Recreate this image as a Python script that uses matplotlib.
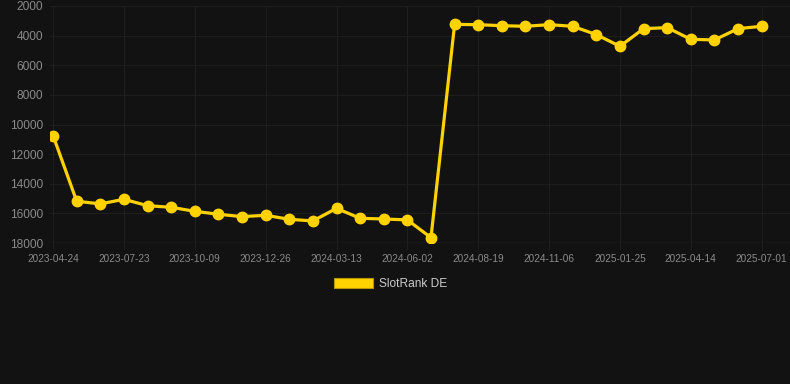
import matplotlib.pyplot as plt
from matplotlib.patches import Patch

# one point per category, every third date shown on the axis
dates = ["2023-04-24", "2023-05-24", "2023-06-23", "2023-07-23", "2023-08-18",
         "2023-09-13", "2023-10-09", "2023-11-04", "2023-11-30", "2023-12-26",
         "2024-01-21", "2024-02-16", "2024-03-13", "2024-04-09", "2024-05-06",
         "2024-06-02", "2024-06-28", "2024-07-24", "2024-08-19", "2024-09-14",
         "2024-10-11", "2024-11-06", "2024-12-02", "2024-12-29", "2025-01-25",
         "2025-02-20", "2025-03-19", "2025-04-14", "2025-05-10", "2025-06-05",
         "2025-07-01"]
rank_de = [10750, 15180, 15360, 15050, 15480, 15590, 15860, 16060, 16220, 16130,
           16400, 16510, 15660, 16330, 16380, 16440, 17640, 3240, 3260, 3330,
           3370, 3260, 3370, 3930, 4720, 3530, 3460, 4250, 4290, 3530, 3370]
y_ticks = [2000, 4000, 6000, 8000, 10000, 12000, 14000, 16000, 18000]

BG = "#121212"
GRID = "#1e1e1e"
GOLD = "#FFD200"
TICK = "#8a8a8a"

plt.rcParams['font.family'] = ['Liberation Sans', 'DejaVu Sans']

fig = plt.figure(figsize=(7.9, 3.84), dpi=100, facecolor=BG)
ax = fig.add_axes([50 / 790, 1 - 243 / 384, 740 / 790, 237 / 384])
ax.set_facecolor(BG)

x = list(range(len(dates)))
ax.plot(x, rank_de, color=GOLD, lw=2.3, marker="o", ms=7.5, zorder=3)

ax.set_ylim(18000, 2000)
ax.set_yticks(y_ticks)
ax.set_yticklabels([str(v) for v in y_ticks])
ax.set_xlim(-0.13, 31.2)
ax.set_xticks(x[::3])
ax.set_xticklabels(dates[::3])

ax.grid(True, color=GRID, lw=0.8)
ax.tick_params(axis="y", colors=TICK, labelsize=8.6, length=0, pad=5)
ax.tick_params(axis="x", colors=GRID, labelcolor=TICK, labelsize=7.2, length=5, pad=3)
for s in ax.spines.values():
    s.set_visible(False)
ax.axhline(18000, color="#2c2c2c", lw=1, zorder=1)

leg = fig.legend(handles=[Patch(facecolor=GOLD, edgecolor="#b89600", lw=0.8, label="SlotRank DE")],
                 loc="center", bbox_to_anchor=(0.494, 1 - 284 / 384), frameon=False,
                 fontsize=8.6, handlelength=3.3, handleheight=1.0, handletextpad=0.5)
for t in leg.get_texts():
    t.set_color("#cccccc")

fig.savefig("out.png", dpi=100, facecolor=BG)
